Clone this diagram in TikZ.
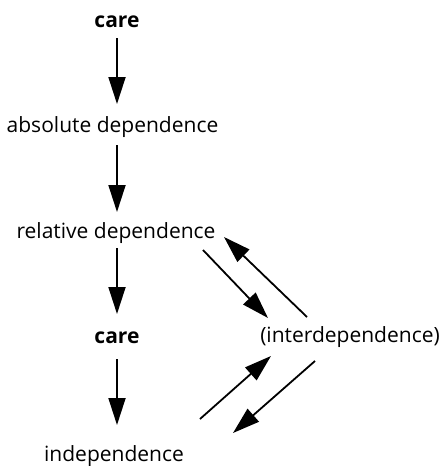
\documentclass[tikz,border=0pt]{standalone}
\usepackage{fontspec}
\setmainfont{Open Sans}
\usetikzlibrary{arrows.meta,calc}
\begin{document}
\begin{tikzpicture}[x=1pt,y=1pt,
  lbl/.style={anchor=base,inner sep=0pt,font=\fontsize{21}{25}\selectfont},
  blbl/.style={lbl,font=\fontsize{21}{25}\selectfont\bfseries},
  arr/.style={line width=1.8pt,-{Triangle[length=27pt,width=17pt]}}]
\useasboundingbox (0,0) rectangle (441,-466);
\node[blbl] (c1) at (117,-27) {care};
\node[lbl] (abs) at (112.5,-132) {absolute dependence};
\node[lbl] (rel) at (116,-238) {relative dependence};
\node[blbl] (c2) at (117,-343) {care};
\node[lbl] (ind) at (114,-461) {independence};
\node[lbl] (int) at (350,-342) {(interdependence)};
% vertical arrows
\draw[arr] ($(c1.base)+(0,-11)$) -- ($(c1.base |- abs.base)+(0,28)$);
\draw[arr] ($(c1.base |- abs.base)+(0,-13)$) -- ($(c1.base |- rel.base)+(0,26)$);
\draw[arr] ($(c1.base |- rel.base)+(0,-10)$) -- ($(c2.base)+(0,29)$);
\draw[arr] ($(c2.base)+(0,-16)$) -- ($(c2.base |- ind.base)+(0,36)$);
% diagonal arrows
\draw[arr] ($(rel.base)+(87,-12)$) -- ($(int.base)+(-82,24)$);
\draw[arr] ($(int.base)+(-43,25)$) -- ($(rel.base)+(108,1)$);
\draw[arr] ($(ind.base)+(86,42)$) -- ($(int.base)+(-79,-14)$);
\draw[arr] ($(int.base)+(-35,-19)$) -- ($(ind.base)+(119,28)$);
\end{tikzpicture}
\end{document}
